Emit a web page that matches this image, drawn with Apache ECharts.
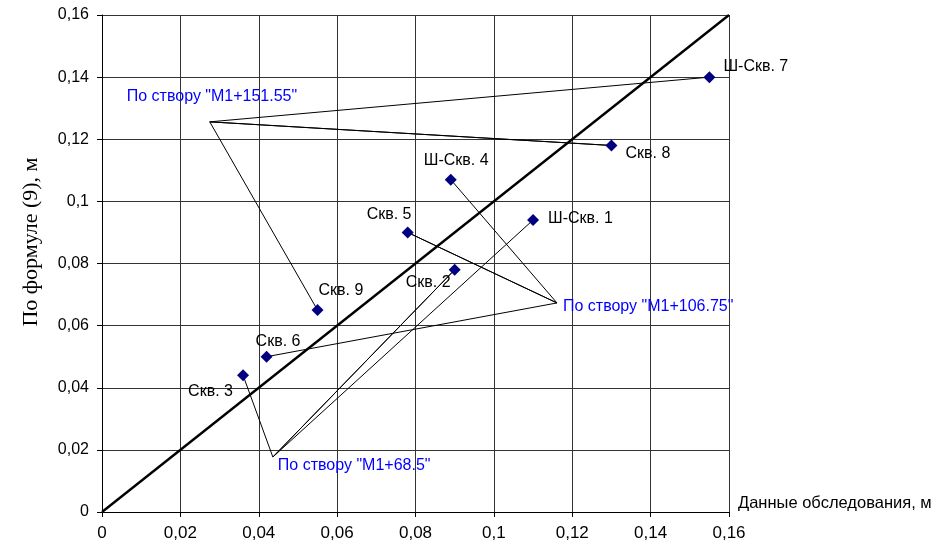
<!DOCTYPE html>
<html><head><meta charset="utf-8">
<script src="https://cdn.jsdelivr.net/npm/echarts@6/dist/echarts.min.js"></script>
<style>html,body{margin:0;padding:0;background:#fff}#c{width:935px;height:547px}</style>
</head><body><div id="c"></div>
<script>
// ---- data ----
const wellNames = ['Ш-Скв. 7','Скв. 8','Ш-Скв. 4','Ш-Скв. 1','Скв. 5','Скв. 2','Скв. 9','Скв. 6','Скв. 3'];
const surveyX   = [0.155, 0.130, 0.089, 0.110, 0.078, 0.090, 0.055, 0.042, 0.036];
const formulaY  = [0.140, 0.118, 0.107, 0.094, 0.090, 0.078, 0.065, 0.050, 0.044];
const sectionNames = ['По створу "M1+151.55"','По створу "M1+106.75"','По створу "M1+68.5"'];
const sectionX = [0.0275, 0.1161, 0.0436];
const sectionY = [0.1256, 0.0673, 0.0177];
const sectionWells = [[0,1,6],[2,4,7],[8,5,3]];
const diagX = [0, 0.16];
const diagY = [0, 0.16];
const xAxisTitle = 'Данные обследования, м';
const yAxisTitle = 'По формуле (9), м';

// ---- style (label offsets in px) ----
const wellLabelOffsets = [[14,-11],[14,8],[-27,-19],[15,-1],[-41,-18],[-49,13],[1,-20],[-11,-15],[-55,16]];
const sectionLabelOffsets = [[-83,-25],[6,4],[5,9]];

const fmt = v => String(Number(v.toFixed(2))).replace('.', ',');
const chart = echarts.init(document.getElementById('c'));
const series = [];

// callout lines
sectionWells.forEach((ws, i) => {
  const a = [sectionX[i], sectionY[i]];
  const d = [];
  ws.forEach((w, k) => {
    if (k > 0) d.push(a);
    d.push([surveyX[w], formulaY[w]]);
    if (k === 0) d.push(a);
  });
  series.push({type:'line', data:d, symbol:'none', silent:true,
    lineStyle:{color:'#000', width:1}, z:2, animation:false});
});
// diagonal
series.push({type:'line', data: diagX.map((x,i)=>[x, diagY[i]]), symbol:'none',
  lineStyle:{color:'#000', width:2.4}, z:3, animation:false});
const lbl = (n, off, color) => ({show:true, position:'inside', align:'left', verticalAlign:'middle',
  offset: off, formatter:n, color:color, textBorderWidth:0, textShadowBlur:0, opacity:1,
  fontFamily:'Liberation Sans', fontSize:16});
// section labels
series.push({type:'scatter', symbolSize:0, animation:false, z:5,
  itemStyle:{opacity:1, color:'#0000FF'},
  data: sectionNames.map((n,i)=>({value:[sectionX[i], sectionY[i]], name:n,
    label: lbl(n, sectionLabelOffsets[i], '#0000FF')}))});
// wells
series.push({type:'scatter', symbol:'diamond', symbolSize:12, animation:false, z:6,
  itemStyle:{color:'#000080', opacity:1},
  data: wellNames.map((n,i)=>({value:[surveyX[i], formulaY[i]], name:n,
    label: lbl(n, wellLabelOffsets[i], '#000')}))});

const axisCommon = {
  type:'value', min:0, max:0.16, interval:0.02,
  axisLine:{show:true, lineStyle:{color:'#000', width:1}},
  axisTick:{show:true, inside:false, length:5, lineStyle:{color:'#000'}},
  splitLine:{show:true, lineStyle:{color:'#333', width:1}},
};
chart.setOption({
  animation:false,
  backgroundColor:'#fff',
  grid:{left:102, right:206, top:15, bottom:35},
  xAxis: Object.assign({}, axisCommon, {
    name:xAxisTitle, nameLocation:'end', nameGap:9,
    nameTextStyle:{color:'#000', fontFamily:'Liberation Sans', fontSize:16.5, align:'left', verticalAlign:'bottom', padding:[0,0,0,0]},
    axisLabel:{color:'#000', fontFamily:'Liberation Sans', fontSize:17, margin:13, formatter:fmt}
  }),
  yAxis: Object.assign({}, axisCommon, {
    axisLabel:{color:'#000', fontFamily:'Liberation Sans', fontSize:16, margin:13, formatter:fmt}
  }),
  graphic:[{type:'text', x:31, y:242, rotation:Math.PI/2,
    style:{text:yAxisTitle, fill:'#000', font:'22px "Liberation Serif"', textAlign:'center', textVerticalAlign:'middle'}}],
  series: series
});
</script>
</body></html>
